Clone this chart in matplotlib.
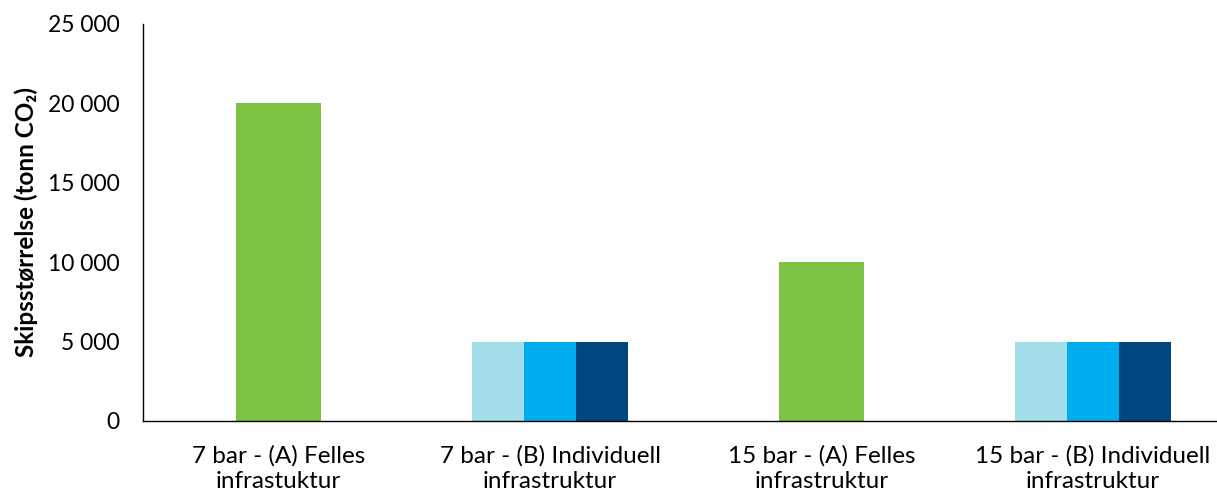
import matplotlib
matplotlib.use("Agg")
import matplotlib.pyplot as plt
from matplotlib.ticker import FuncFormatter
import numpy as np

plt.rcParams['font.family'] = ['Lato', 'DejaVu Sans']

categories = ["7 bar - (A) Felles\ninfrastuktur",
              "7 bar - (B) Individuell\ninfrastruktur",
              "15 bar - (A) Felles\ninfrastruktur",
              "15 bar - (B) Individuell\ninfrastruktur"]
felles = [20000, None, 10000, None]
ind_1 = [None, 5000, None, 5000]
ind_2 = [None, 5000, None, 5000]
ind_3 = [None, 5000, None, 5000]

c_green = "#7DC242"
c_light = "#A2DDE9"
c_mid = "#00AEEF"
c_dark = "#00467F"

fig = plt.figure(figsize=(12.17, 4.97), dpi=100)
ax = fig.add_axes([0.1175, 0.153, 0.8825, 0.799])

x = np.arange(len(categories))
wg = 0.313
wb = 0.192

for i in range(len(categories)):
    if felles[i] is not None:
        ax.bar(x[i], felles[i], width=wg, color=c_green)
    for off, vals, col in ((-wb, ind_1, c_light), (0, ind_2, c_mid), (wb, ind_3, c_dark)):
        if vals[i] is not None:
            ax.bar(x[i] + off, vals[i], width=wb, color=col)

ax.set_xlim(-0.5, 3.457)
ax.set_ylim(0, 25000)
ax.set_yticks(np.arange(0, 25001, 5000))
ax.yaxis.set_major_formatter(FuncFormatter(lambda v, p: f"{int(v):,}".replace(",", " ")))
ax.set_xticks(x)
ax.set_xticklabels(categories, fontsize=17.5, linespacing=1.3)
ax.tick_params(axis='y', length=0, labelsize=16.5, colors='black', pad=17)
ax.tick_params(axis='x', length=0, colors='black', pad=17)
for s in ("top", "right"):
    ax.spines[s].set_visible(False)
for s in ("left", "bottom"):
    ax.spines[s].set_color("#000000")
    ax.spines[s].set_linewidth(1.0)

ax.set_ylabel("Skipsstørrelse (tonn CO₂)", fontsize=17.5, fontweight='bold', labelpad=7)

fig.savefig("out.png", dpi=100)
